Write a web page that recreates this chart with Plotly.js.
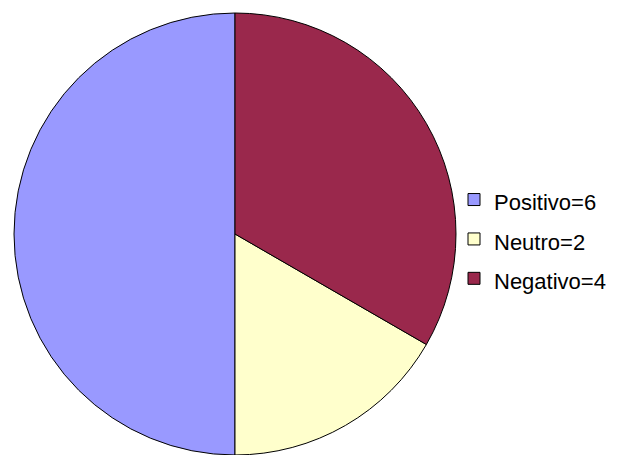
<!DOCTYPE html>
<html>
<head>
<meta charset="utf-8">
<script src="https://cdn.plot.ly/plotly-3.0.1.min.js"></script>
<style>html,body{margin:0;padding:0;background:#fff;}#chart{width:628px;height:455px;}</style>
</head>
<body>
<div id="chart"></div>
<script>
const labels = ["Positivo=6", "Neutro=2", "Negativo=4"];
const values = [6, 2, 4];
const colors = ["#9999FF", "#FFFFCC", "#9A284C"];

const trace = {
  type: "pie",
  labels: labels.map(l => '<span style="font-size:22px">' + l + '</span>'),
  values: values,
  sort: false,
  direction: "counterclockwise",
  rotation: 180,
  textinfo: "none",
  hoverinfo: "none",
  marker: { colors: colors, line: { color: "#000000", width: 1 } },
  domain: { x: [14/628, 456/628], y: [0, 1] }
};

const layout = {
  width: 628, height: 455,
  margin: { l: 0, r: 0, t: 13, b: 0 },
  paper_bgcolor: "#ffffff",
  showlegend: true,
  legend: {
    x: 454/628, xanchor: "left",
    y: 1 - 233/455, yanchor: "middle",
    font: { family: "Liberation Sans, Arial, sans-serif", size: 28, color: "#000000" },
    bgcolor: "rgba(0,0,0,0)"
  },
  font: { family: "Liberation Sans, Arial, sans-serif" }
};

Plotly.newPlot("chart", [trace], layout, { staticPlot: true });
</script>
</body>
</html>
